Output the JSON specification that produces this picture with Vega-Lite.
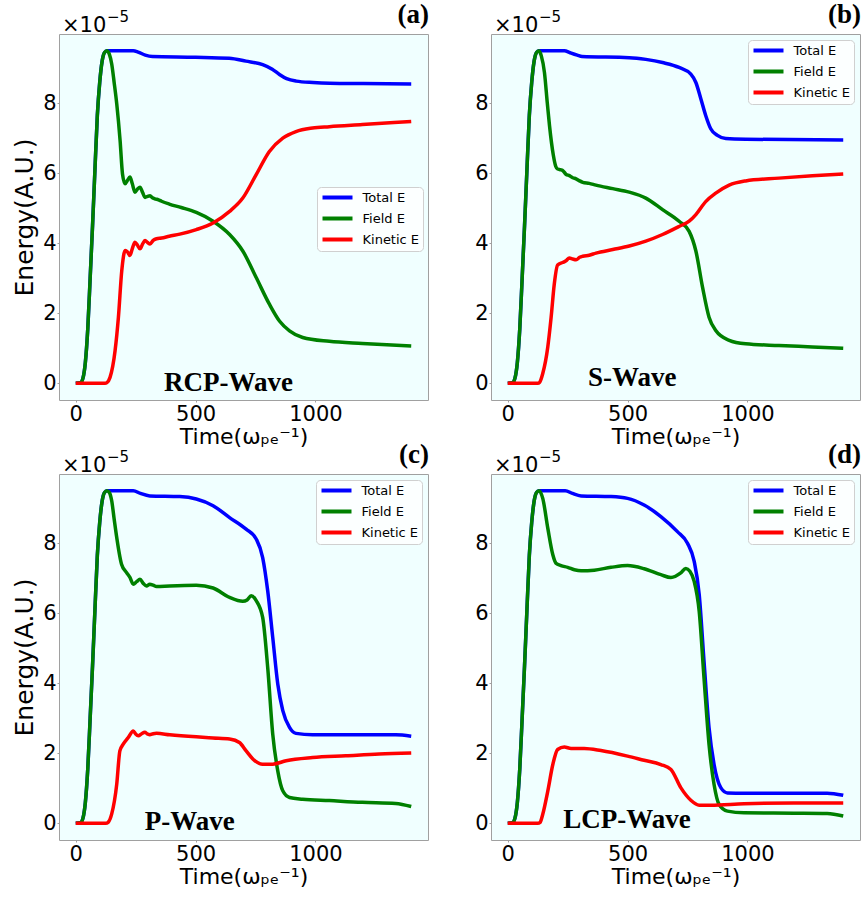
{
  "$schema": "https://vega.github.io/schema/vega-lite/v6.json",
  "padding": {"left": 12, "top": 0, "right": 2, "bottom": 5},
  "background": "white",
  "columns": 2,
  "spacing": {"row": 74, "column": 63},
  "bounds": "flush",
  "resolve": {"legend": {"color": "independent"}},
  "config": {
    "view": {"fill": "#f0ffff", "stroke": "#a0a0a0", "strokeWidth": 1},
    "axis": {"grid": false, "domain": false, "tickColor": "#a0a0a0", "tickSize": 2, "labelPadding": 1, "labelFont": "DejaVu Sans", "labelFontSize": 21, "labelColor": "black", "titleFont": "DejaVu Sans", "titleFontWeight": "normal", "titleColor": "black"},
    "axisX": {"titleFontSize": 22, "titlePadding": 2, "format": "d"},
    "axisY": {"titleFontSize": 25, "titlePadding": 5},
    "legend": {"fillColor": "rgba(255,255,255,0.8)", "strokeColor": "#d0d0d0", "cornerRadius": 4, "padding": 3.5, "labelFont": "DejaVu Sans", "labelFontSize": 13, "labelColor": "black", "symbolType": "M-1,0H5", "symbolSize": 100, "symbolStrokeWidth": 4, "labelOffset": 28, "rowPadding": 5, "title": null}
  },
  "datasets": {
    "d": [
      {"p":"a","s":"Total E","t":0,"E":0},{"p":"a","s":"Total E","t":20,"E":0.02},{"p":"a","s":"Total E","t":30,"E":0.15},{"p":"a","s":"Total E","t":40,"E":0.6},{"p":"a","s":"Total E","t":50,"E":1.55},{"p":"a","s":"Total E","t":60,"E":3.0},{"p":"a","s":"Total E","t":70,"E":4.5},{"p":"a","s":"Total E","t":80,"E":6.1},{"p":"a","s":"Total E","t":90,"E":7.65},{"p":"a","s":"Total E","t":100,"E":8.6},{"p":"a","s":"Total E","t":110,"E":9.2},{"p":"a","s":"Total E","t":120,"E":9.45},{"p":"a","s":"Total E","t":130,"E":9.5},{"p":"a","s":"Total E","t":240,"E":9.5},{"p":"a","s":"Total E","t":260,"E":9.46},{"p":"a","s":"Total E","t":290,"E":9.37},{"p":"a","s":"Total E","t":320,"E":9.33},{"p":"a","s":"Total E","t":500,"E":9.31},{"p":"a","s":"Total E","t":640,"E":9.28},{"p":"a","s":"Total E","t":710,"E":9.2},{"p":"a","s":"Total E","t":780,"E":9.1},{"p":"a","s":"Total E","t":820,"E":8.97},{"p":"a","s":"Total E","t":850,"E":8.82},{"p":"a","s":"Total E","t":880,"E":8.7},{"p":"a","s":"Total E","t":920,"E":8.63},{"p":"a","s":"Total E","t":990,"E":8.59},{"p":"a","s":"Total E","t":1060,"E":8.57},{"p":"a","s":"Total E","t":1200,"E":8.56},{"p":"a","s":"Total E","t":1400,"E":8.55},
      {"p":"a","s":"Field E","t":0,"E":0},{"p":"a","s":"Field E","t":20,"E":0.02},{"p":"a","s":"Field E","t":30,"E":0.15},{"p":"a","s":"Field E","t":40,"E":0.6},{"p":"a","s":"Field E","t":50,"E":1.55},{"p":"a","s":"Field E","t":60,"E":3.0},{"p":"a","s":"Field E","t":70,"E":4.5},{"p":"a","s":"Field E","t":80,"E":6.1},{"p":"a","s":"Field E","t":90,"E":7.65},{"p":"a","s":"Field E","t":100,"E":8.6},{"p":"a","s":"Field E","t":110,"E":9.2},{"p":"a","s":"Field E","t":120,"E":9.45},{"p":"a","s":"Field E","t":130,"E":9.5},{"p":"a","s":"Field E","t":140,"E":9.4},{"p":"a","s":"Field E","t":150,"E":9.12},{"p":"a","s":"Field E","t":160,"E":8.6},{"p":"a","s":"Field E","t":171,"E":7.98},{"p":"a","s":"Field E","t":185,"E":6.93},{"p":"a","s":"Field E","t":195,"E":5.98},{"p":"a","s":"Field E","t":206,"E":5.7},{"p":"a","s":"Field E","t":216,"E":5.8},{"p":"a","s":"Field E","t":226,"E":5.89},{"p":"a","s":"Field E","t":236,"E":5.7},{"p":"a","s":"Field E","t":247,"E":5.46},{"p":"a","s":"Field E","t":258,"E":5.55},{"p":"a","s":"Field E","t":268,"E":5.6},{"p":"a","s":"Field E","t":279,"E":5.45},{"p":"a","s":"Field E","t":289,"E":5.31},{"p":"a","s":"Field E","t":300,"E":5.34},{"p":"a","s":"Field E","t":310,"E":5.36},{"p":"a","s":"Field E","t":320,"E":5.3},{"p":"a","s":"Field E","t":330,"E":5.27},{"p":"a","s":"Field E","t":345,"E":5.24},{"p":"a","s":"Field E","t":358,"E":5.2},{"p":"a","s":"Field E","t":390,"E":5.12},{"p":"a","s":"Field E","t":440,"E":5.02},{"p":"a","s":"Field E","t":503,"E":4.88},{"p":"a","s":"Field E","t":573,"E":4.63},{"p":"a","s":"Field E","t":642,"E":4.25},{"p":"a","s":"Field E","t":697,"E":3.78},{"p":"a","s":"Field E","t":753,"E":3.02},{"p":"a","s":"Field E","t":808,"E":2.26},{"p":"a","s":"Field E","t":850,"E":1.78},{"p":"a","s":"Field E","t":892,"E":1.5},{"p":"a","s":"Field E","t":947,"E":1.31},{"p":"a","s":"Field E","t":1058,"E":1.2},{"p":"a","s":"Field E","t":1196,"E":1.14},{"p":"a","s":"Field E","t":1400,"E":1.07},
      {"p":"a","s":"Kinetic E","t":0,"E":0},{"p":"a","s":"Kinetic E","t":122,"E":0},{"p":"a","s":"Kinetic E","t":130,"E":0.02},{"p":"a","s":"Kinetic E","t":143,"E":0.17},{"p":"a","s":"Kinetic E","t":164,"E":0.93},{"p":"a","s":"Kinetic E","t":178,"E":1.89},{"p":"a","s":"Kinetic E","t":192,"E":3.22},{"p":"a","s":"Kinetic E","t":206,"E":3.79},{"p":"a","s":"Kinetic E","t":216,"E":3.75},{"p":"a","s":"Kinetic E","t":226,"E":3.65},{"p":"a","s":"Kinetic E","t":236,"E":3.85},{"p":"a","s":"Kinetic E","t":247,"E":4.03},{"p":"a","s":"Kinetic E","t":257,"E":3.95},{"p":"a","s":"Kinetic E","t":268,"E":3.84},{"p":"a","s":"Kinetic E","t":279,"E":3.98},{"p":"a","s":"Kinetic E","t":289,"E":4.08},{"p":"a","s":"Kinetic E","t":300,"E":4.02},{"p":"a","s":"Kinetic E","t":310,"E":3.98},{"p":"a","s":"Kinetic E","t":323,"E":4.08},{"p":"a","s":"Kinetic E","t":337,"E":4.13},{"p":"a","s":"Kinetic E","t":358,"E":4.15},{"p":"a","s":"Kinetic E","t":390,"E":4.2},{"p":"a","s":"Kinetic E","t":434,"E":4.26},{"p":"a","s":"Kinetic E","t":503,"E":4.39},{"p":"a","s":"Kinetic E","t":573,"E":4.58},{"p":"a","s":"Kinetic E","t":642,"E":4.91},{"p":"a","s":"Kinetic E","t":697,"E":5.29},{"p":"a","s":"Kinetic E","t":753,"E":5.96},{"p":"a","s":"Kinetic E","t":808,"E":6.62},{"p":"a","s":"Kinetic E","t":864,"E":7.0},{"p":"a","s":"Kinetic E","t":919,"E":7.19},{"p":"a","s":"Kinetic E","t":988,"E":7.29},{"p":"a","s":"Kinetic E","t":1058,"E":7.33},{"p":"a","s":"Kinetic E","t":1196,"E":7.39},{"p":"a","s":"Kinetic E","t":1400,"E":7.48},

      {"p":"b","s":"Total E","t":0,"E":0},{"p":"b","s":"Total E","t":20,"E":0.02},{"p":"b","s":"Total E","t":30,"E":0.15},{"p":"b","s":"Total E","t":40,"E":0.6},{"p":"b","s":"Total E","t":50,"E":1.55},{"p":"b","s":"Total E","t":60,"E":3.0},{"p":"b","s":"Total E","t":70,"E":4.5},{"p":"b","s":"Total E","t":80,"E":6.1},{"p":"b","s":"Total E","t":90,"E":7.65},{"p":"b","s":"Total E","t":100,"E":8.6},{"p":"b","s":"Total E","t":110,"E":9.2},{"p":"b","s":"Total E","t":120,"E":9.45},{"p":"b","s":"Total E","t":130,"E":9.5},{"p":"b","s":"Total E","t":236,"E":9.5},{"p":"b","s":"Total E","t":260,"E":9.44},{"p":"b","s":"Total E","t":290,"E":9.37},{"p":"b","s":"Total E","t":310,"E":9.33},{"p":"b","s":"Total E","t":507,"E":9.3},{"p":"b","s":"Total E","t":576,"E":9.25},{"p":"b","s":"Total E","t":646,"E":9.16},{"p":"b","s":"Total E","t":715,"E":9.02},{"p":"b","s":"Total E","t":764,"E":8.83},{"p":"b","s":"Total E","t":785,"E":8.59},{"p":"b","s":"Total E","t":806,"E":8.12},{"p":"b","s":"Total E","t":826,"E":7.65},{"p":"b","s":"Total E","t":847,"E":7.27},{"p":"b","s":"Total E","t":875,"E":7.08},{"p":"b","s":"Total E","t":910,"E":6.99},{"p":"b","s":"Total E","t":993,"E":6.97},{"p":"b","s":"Total E","t":1400,"E":6.95},
      {"p":"b","s":"Field E","t":0,"E":0},{"p":"b","s":"Field E","t":20,"E":0.02},{"p":"b","s":"Field E","t":30,"E":0.15},{"p":"b","s":"Field E","t":40,"E":0.6},{"p":"b","s":"Field E","t":50,"E":1.55},{"p":"b","s":"Field E","t":60,"E":3.0},{"p":"b","s":"Field E","t":70,"E":4.5},{"p":"b","s":"Field E","t":80,"E":6.1},{"p":"b","s":"Field E","t":90,"E":7.65},{"p":"b","s":"Field E","t":100,"E":8.6},{"p":"b","s":"Field E","t":110,"E":9.2},{"p":"b","s":"Field E","t":120,"E":9.45},{"p":"b","s":"Field E","t":130,"E":9.5},{"p":"b","s":"Field E","t":140,"E":9.35},{"p":"b","s":"Field E","t":153,"E":8.88},{"p":"b","s":"Field E","t":165,"E":8.0},{"p":"b","s":"Field E","t":174,"E":7.37},{"p":"b","s":"Field E","t":190,"E":6.52},{"p":"b","s":"Field E","t":200,"E":6.2},{"p":"b","s":"Field E","t":208,"E":6.12},{"p":"b","s":"Field E","t":220,"E":6.1},{"p":"b","s":"Field E","t":229,"E":6.08},{"p":"b","s":"Field E","t":243,"E":5.97},{"p":"b","s":"Field E","t":257,"E":5.93},{"p":"b","s":"Field E","t":271,"E":5.87},{"p":"b","s":"Field E","t":285,"E":5.84},{"p":"b","s":"Field E","t":300,"E":5.78},{"p":"b","s":"Field E","t":313,"E":5.74},{"p":"b","s":"Field E","t":340,"E":5.71},{"p":"b","s":"Field E","t":368,"E":5.66},{"p":"b","s":"Field E","t":438,"E":5.56},{"p":"b","s":"Field E","t":507,"E":5.46},{"p":"b","s":"Field E","t":576,"E":5.29},{"p":"b","s":"Field E","t":646,"E":4.96},{"p":"b","s":"Field E","t":715,"E":4.63},{"p":"b","s":"Field E","t":757,"E":4.34},{"p":"b","s":"Field E","t":785,"E":3.78},{"p":"b","s":"Field E","t":813,"E":2.74},{"p":"b","s":"Field E","t":840,"E":1.89},{"p":"b","s":"Field E","t":868,"E":1.51},{"p":"b","s":"Field E","t":924,"E":1.23},{"p":"b","s":"Field E","t":993,"E":1.13},{"p":"b","s":"Field E","t":1132,"E":1.08},{"p":"b","s":"Field E","t":1271,"E":1.04},{"p":"b","s":"Field E","t":1400,"E":1.0},
      {"p":"b","s":"Kinetic E","t":0,"E":0},{"p":"b","s":"Kinetic E","t":125,"E":0},{"p":"b","s":"Kinetic E","t":133,"E":0.03},{"p":"b","s":"Kinetic E","t":146,"E":0.28},{"p":"b","s":"Kinetic E","t":167,"E":1.04},{"p":"b","s":"Kinetic E","t":181,"E":1.89},{"p":"b","s":"Kinetic E","t":194,"E":2.83},{"p":"b","s":"Kinetic E","t":208,"E":3.38},{"p":"b","s":"Kinetic E","t":229,"E":3.45},{"p":"b","s":"Kinetic E","t":243,"E":3.5},{"p":"b","s":"Kinetic E","t":257,"E":3.58},{"p":"b","s":"Kinetic E","t":271,"E":3.55},{"p":"b","s":"Kinetic E","t":285,"E":3.53},{"p":"b","s":"Kinetic E","t":300,"E":3.6},{"p":"b","s":"Kinetic E","t":313,"E":3.63},{"p":"b","s":"Kinetic E","t":340,"E":3.66},{"p":"b","s":"Kinetic E","t":368,"E":3.72},{"p":"b","s":"Kinetic E","t":438,"E":3.82},{"p":"b","s":"Kinetic E","t":507,"E":3.92},{"p":"b","s":"Kinetic E","t":576,"E":4.06},{"p":"b","s":"Kinetic E","t":646,"E":4.25},{"p":"b","s":"Kinetic E","t":715,"E":4.48},{"p":"b","s":"Kinetic E","t":757,"E":4.63},{"p":"b","s":"Kinetic E","t":785,"E":4.82},{"p":"b","s":"Kinetic E","t":826,"E":5.19},{"p":"b","s":"Kinetic E","t":868,"E":5.43},{"p":"b","s":"Kinetic E","t":924,"E":5.66},{"p":"b","s":"Kinetic E","t":993,"E":5.78},{"p":"b","s":"Kinetic E","t":1132,"E":5.86},{"p":"b","s":"Kinetic E","t":1271,"E":5.93},{"p":"b","s":"Kinetic E","t":1400,"E":5.98},

      {"p":"c","s":"Total E","t":0,"E":0},{"p":"c","s":"Total E","t":20,"E":0.02},{"p":"c","s":"Total E","t":30,"E":0.15},{"p":"c","s":"Total E","t":40,"E":0.6},{"p":"c","s":"Total E","t":50,"E":1.55},{"p":"c","s":"Total E","t":60,"E":3.0},{"p":"c","s":"Total E","t":70,"E":4.5},{"p":"c","s":"Total E","t":80,"E":6.1},{"p":"c","s":"Total E","t":90,"E":7.65},{"p":"c","s":"Total E","t":100,"E":8.6},{"p":"c","s":"Total E","t":110,"E":9.2},{"p":"c","s":"Total E","t":120,"E":9.45},{"p":"c","s":"Total E","t":130,"E":9.5},{"p":"c","s":"Total E","t":240,"E":9.5},{"p":"c","s":"Total E","t":270,"E":9.42},{"p":"c","s":"Total E","t":309,"E":9.35},{"p":"c","s":"Total E","t":434,"E":9.33},{"p":"c","s":"Total E","t":503,"E":9.26},{"p":"c","s":"Total E","t":573,"E":9.07},{"p":"c","s":"Total E","t":642,"E":8.73},{"p":"c","s":"Total E","t":711,"E":8.4},{"p":"c","s":"Total E","t":753,"E":8.12},{"p":"c","s":"Total E","t":780,"E":7.59},{"p":"c","s":"Total E","t":801,"E":6.64},{"p":"c","s":"Total E","t":822,"E":5.31},{"p":"c","s":"Total E","t":843,"E":3.98},{"p":"c","s":"Total E","t":864,"E":3.22},{"p":"c","s":"Total E","t":892,"E":2.74},{"p":"c","s":"Total E","t":919,"E":2.57},{"p":"c","s":"Total E","t":988,"E":2.53},{"p":"c","s":"Total E","t":1335,"E":2.53},{"p":"c","s":"Total E","t":1400,"E":2.49},
      {"p":"c","s":"Field E","t":0,"E":0},{"p":"c","s":"Field E","t":20,"E":0.02},{"p":"c","s":"Field E","t":30,"E":0.15},{"p":"c","s":"Field E","t":40,"E":0.6},{"p":"c","s":"Field E","t":50,"E":1.55},{"p":"c","s":"Field E","t":60,"E":3.0},{"p":"c","s":"Field E","t":70,"E":4.5},{"p":"c","s":"Field E","t":80,"E":6.1},{"p":"c","s":"Field E","t":90,"E":7.65},{"p":"c","s":"Field E","t":100,"E":8.6},{"p":"c","s":"Field E","t":110,"E":9.2},{"p":"c","s":"Field E","t":120,"E":9.45},{"p":"c","s":"Field E","t":130,"E":9.5},{"p":"c","s":"Field E","t":140,"E":9.45},{"p":"c","s":"Field E","t":150,"E":9.21},{"p":"c","s":"Field E","t":160,"E":8.7},{"p":"c","s":"Field E","t":171,"E":8.16},{"p":"c","s":"Field E","t":191,"E":7.4},{"p":"c","s":"Field E","t":212,"E":7.16},{"p":"c","s":"Field E","t":226,"E":7.02},{"p":"c","s":"Field E","t":240,"E":6.83},{"p":"c","s":"Field E","t":254,"E":6.9},{"p":"c","s":"Field E","t":268,"E":6.97},{"p":"c","s":"Field E","t":282,"E":6.85},{"p":"c","s":"Field E","t":295,"E":6.78},{"p":"c","s":"Field E","t":309,"E":6.83},{"p":"c","s":"Field E","t":323,"E":6.8},{"p":"c","s":"Field E","t":337,"E":6.76},{"p":"c","s":"Field E","t":392,"E":6.78},{"p":"c","s":"Field E","t":503,"E":6.8},{"p":"c","s":"Field E","t":573,"E":6.72},{"p":"c","s":"Field E","t":642,"E":6.45},{"p":"c","s":"Field E","t":697,"E":6.34},{"p":"c","s":"Field E","t":715,"E":6.38},{"p":"c","s":"Field E","t":732,"E":6.5},{"p":"c","s":"Field E","t":753,"E":6.36},{"p":"c","s":"Field E","t":780,"E":5.88},{"p":"c","s":"Field E","t":801,"E":4.45},{"p":"c","s":"Field E","t":822,"E":2.55},{"p":"c","s":"Field E","t":843,"E":1.5},{"p":"c","s":"Field E","t":864,"E":0.93},{"p":"c","s":"Field E","t":892,"E":0.74},{"p":"c","s":"Field E","t":947,"E":0.69},{"p":"c","s":"Field E","t":1058,"E":0.65},{"p":"c","s":"Field E","t":1196,"E":0.6},{"p":"c","s":"Field E","t":1335,"E":0.57},{"p":"c","s":"Field E","t":1400,"E":0.48},
      {"p":"c","s":"Kinetic E","t":0,"E":0},{"p":"c","s":"Kinetic E","t":125,"E":0},{"p":"c","s":"Kinetic E","t":135,"E":0.03},{"p":"c","s":"Kinetic E","t":150,"E":0.27},{"p":"c","s":"Kinetic E","t":171,"E":1.12},{"p":"c","s":"Kinetic E","t":184,"E":2.07},{"p":"c","s":"Kinetic E","t":198,"E":2.26},{"p":"c","s":"Kinetic E","t":219,"E":2.45},{"p":"c","s":"Kinetic E","t":240,"E":2.64},{"p":"c","s":"Kinetic E","t":250,"E":2.55},{"p":"c","s":"Kinetic E","t":261,"E":2.5},{"p":"c","s":"Kinetic E","t":275,"E":2.56},{"p":"c","s":"Kinetic E","t":288,"E":2.6},{"p":"c","s":"Kinetic E","t":300,"E":2.55},{"p":"c","s":"Kinetic E","t":309,"E":2.53},{"p":"c","s":"Kinetic E","t":323,"E":2.56},{"p":"c","s":"Kinetic E","t":337,"E":2.57},{"p":"c","s":"Kinetic E","t":392,"E":2.53},{"p":"c","s":"Kinetic E","t":503,"E":2.47},{"p":"c","s":"Kinetic E","t":573,"E":2.44},{"p":"c","s":"Kinetic E","t":642,"E":2.41},{"p":"c","s":"Kinetic E","t":683,"E":2.31},{"p":"c","s":"Kinetic E","t":711,"E":2.07},{"p":"c","s":"Kinetic E","t":739,"E":1.84},{"p":"c","s":"Kinetic E","t":780,"E":1.69},{"p":"c","s":"Kinetic E","t":822,"E":1.69},{"p":"c","s":"Kinetic E","t":878,"E":1.79},{"p":"c","s":"Kinetic E","t":988,"E":1.88},{"p":"c","s":"Kinetic E","t":1127,"E":1.93},{"p":"c","s":"Kinetic E","t":1266,"E":1.98},{"p":"c","s":"Kinetic E","t":1400,"E":2.01},

      {"p":"d","s":"Total E","t":0,"E":0},{"p":"d","s":"Total E","t":20,"E":0.02},{"p":"d","s":"Total E","t":30,"E":0.15},{"p":"d","s":"Total E","t":40,"E":0.6},{"p":"d","s":"Total E","t":50,"E":1.55},{"p":"d","s":"Total E","t":60,"E":3.0},{"p":"d","s":"Total E","t":70,"E":4.5},{"p":"d","s":"Total E","t":80,"E":6.1},{"p":"d","s":"Total E","t":90,"E":7.65},{"p":"d","s":"Total E","t":100,"E":8.6},{"p":"d","s":"Total E","t":110,"E":9.2},{"p":"d","s":"Total E","t":120,"E":9.45},{"p":"d","s":"Total E","t":130,"E":9.5},{"p":"d","s":"Total E","t":240,"E":9.5},{"p":"d","s":"Total E","t":270,"E":9.42},{"p":"d","s":"Total E","t":306,"E":9.35},{"p":"d","s":"Total E","t":431,"E":9.33},{"p":"d","s":"Total E","t":500,"E":9.28},{"p":"d","s":"Total E","t":569,"E":9.09},{"p":"d","s":"Total E","t":639,"E":8.76},{"p":"d","s":"Total E","t":708,"E":8.33},{"p":"d","s":"Total E","t":750,"E":8.0},{"p":"d","s":"Total E","t":778,"E":7.48},{"p":"d","s":"Total E","t":799,"E":6.53},{"p":"d","s":"Total E","t":819,"E":4.63},{"p":"d","s":"Total E","t":840,"E":2.73},{"p":"d","s":"Total E","t":861,"E":1.68},{"p":"d","s":"Total E","t":889,"E":1.02},{"p":"d","s":"Total E","t":917,"E":0.87},{"p":"d","s":"Total E","t":986,"E":0.86},{"p":"d","s":"Total E","t":1333,"E":0.86},{"p":"d","s":"Total E","t":1400,"E":0.8},
      {"p":"d","s":"Field E","t":0,"E":0},{"p":"d","s":"Field E","t":20,"E":0.02},{"p":"d","s":"Field E","t":30,"E":0.15},{"p":"d","s":"Field E","t":40,"E":0.6},{"p":"d","s":"Field E","t":50,"E":1.55},{"p":"d","s":"Field E","t":60,"E":3.0},{"p":"d","s":"Field E","t":70,"E":4.5},{"p":"d","s":"Field E","t":80,"E":6.1},{"p":"d","s":"Field E","t":90,"E":7.65},{"p":"d","s":"Field E","t":100,"E":8.6},{"p":"d","s":"Field E","t":110,"E":9.2},{"p":"d","s":"Field E","t":120,"E":9.45},{"p":"d","s":"Field E","t":130,"E":9.5},{"p":"d","s":"Field E","t":146,"E":9.28},{"p":"d","s":"Field E","t":167,"E":8.43},{"p":"d","s":"Field E","t":188,"E":7.67},{"p":"d","s":"Field E","t":201,"E":7.43},{"p":"d","s":"Field E","t":222,"E":7.36},{"p":"d","s":"Field E","t":250,"E":7.31},{"p":"d","s":"Field E","t":278,"E":7.24},{"p":"d","s":"Field E","t":306,"E":7.21},{"p":"d","s":"Field E","t":361,"E":7.23},{"p":"d","s":"Field E","t":431,"E":7.31},{"p":"d","s":"Field E","t":500,"E":7.36},{"p":"d","s":"Field E","t":569,"E":7.27},{"p":"d","s":"Field E","t":639,"E":7.1},{"p":"d","s":"Field E","t":681,"E":7.02},{"p":"d","s":"Field E","t":722,"E":7.15},{"p":"d","s":"Field E","t":743,"E":7.28},{"p":"d","s":"Field E","t":760,"E":7.2},{"p":"d","s":"Field E","t":778,"E":6.91},{"p":"d","s":"Field E","t":799,"E":6.05},{"p":"d","s":"Field E","t":819,"E":4.15},{"p":"d","s":"Field E","t":840,"E":2.25},{"p":"d","s":"Field E","t":861,"E":1.11},{"p":"d","s":"Field E","t":882,"E":0.54},{"p":"d","s":"Field E","t":917,"E":0.35},{"p":"d","s":"Field E","t":986,"E":0.3},{"p":"d","s":"Field E","t":1194,"E":0.29},{"p":"d","s":"Field E","t":1333,"E":0.28},{"p":"d","s":"Field E","t":1400,"E":0.21},
      {"p":"d","s":"Kinetic E","t":0,"E":0},{"p":"d","s":"Kinetic E","t":125,"E":0},{"p":"d","s":"Kinetic E","t":135,"E":0.03},{"p":"d","s":"Kinetic E","t":146,"E":0.26},{"p":"d","s":"Kinetic E","t":167,"E":0.92},{"p":"d","s":"Kinetic E","t":188,"E":1.68},{"p":"d","s":"Kinetic E","t":208,"E":2.11},{"p":"d","s":"Kinetic E","t":236,"E":2.18},{"p":"d","s":"Kinetic E","t":264,"E":2.14},{"p":"d","s":"Kinetic E","t":319,"E":2.14},{"p":"d","s":"Kinetic E","t":389,"E":2.08},{"p":"d","s":"Kinetic E","t":500,"E":1.92},{"p":"d","s":"Kinetic E","t":569,"E":1.8},{"p":"d","s":"Kinetic E","t":639,"E":1.68},{"p":"d","s":"Kinetic E","t":681,"E":1.54},{"p":"d","s":"Kinetic E","t":722,"E":1.02},{"p":"d","s":"Kinetic E","t":764,"E":0.66},{"p":"d","s":"Kinetic E","t":799,"E":0.52},{"p":"d","s":"Kinetic E","t":847,"E":0.52},{"p":"d","s":"Kinetic E","t":986,"E":0.56},{"p":"d","s":"Kinetic E","t":1194,"E":0.58},{"p":"d","s":"Kinetic E","t":1400,"E":0.58}
    ],
    "labels": [
      {"p":"a","t":637,"E":-0.23,"name":"RCP-Wave"},
      {"p":"b","t":519,"E":-0.07,"name":"S-Wave"},
      {"p":"c","t":476,"E":-0.18,"name":"P-Wave"},
      {"p":"d","t":498,"E":-0.14,"name":"LCP-Wave"}
    ],
    "tags": [
      {"p":"a","t":1470,"E":9.975,"name":"(a)"},
      {"p":"b","t":1470,"E":9.975,"name":"(b)"},
      {"p":"c","t":1470,"E":9.975,"name":"(c)"},
      {"p":"d","t":1470,"E":9.975,"name":"(d)"}
    ],
    "mant": [{"t":-70,"E":9.975,"name":"×10"}],
    "expo": [{"t":-70,"E":9.975,"name":"−5"}]
  },
  "concat": [
    {
      "width": 369, "height": 366,
      "layer": [
        {
          "data": {"name": "d"},
          "transform": [{"filter": "datum.p == 'a'"}],
          "mark": {"type": "line", "strokeWidth": 3.5, "interpolate": "monotone"},
          "encoding": {
            "x": {"field": "t", "type": "quantitative", "scale": {"domain": [-70, 1470], "nice": false, "zero": false}, "axis": {"title": "Time(ωₚₑ⁻¹)", "values": [0, 500, 1000]}},
            "y": {"field": "E", "type": "quantitative", "scale": {"domain": [-0.475, 9.975], "nice": false, "zero": false}, "axis": {"title": "Energy(A.U.)", "values": [0, 2, 4, 6, 8]}},
            "color": {"field": "s", "type": "nominal", "sort": null, "scale": {"domain": ["Total E", "Field E", "Kinetic E"], "range": ["#0000ff", "#008000", "#ff0000"]}, "legend": {"orient": "none", "legendX": 258, "legendY": 153}}
          }
        },
        {"data": {"name": "mant"}, "mark": {"type": "text", "align": "left", "baseline": "alphabetic", "dx": 3, "dy": -2, "font": "DejaVu Sans", "fontSize": 21, "color": "black"}, "encoding": {"x": {"field": "t", "type": "quantitative"}, "y": {"field": "E", "type": "quantitative"}, "text": {"field": "name"}}},
        {"data": {"name": "expo"}, "mark": {"type": "text", "align": "left", "baseline": "alphabetic", "dx": 48, "dy": -12, "font": "DejaVu Sans", "fontSize": 15, "color": "black"}, "encoding": {"x": {"field": "t", "type": "quantitative"}, "y": {"field": "E", "type": "quantitative"}, "text": {"field": "name"}}},
        {"data": {"name": "tags"}, "transform": [{"filter": "datum.p == 'a'"}], "mark": {"type": "text", "align": "right", "baseline": "alphabetic", "dx": 1, "dy": -11, "font": "Liberation Serif", "fontWeight": "bold", "fontSize": 27, "color": "black"}, "encoding": {"x": {"field": "t", "type": "quantitative"}, "y": {"field": "E", "type": "quantitative"}, "text": {"field": "name"}}},
        {"data": {"name": "labels"}, "transform": [{"filter": "datum.p == 'a'"}], "mark": {"type": "text", "align": "center", "baseline": "alphabetic", "font": "Liberation Serif", "fontWeight": "bold", "fontSize": 27, "color": "black"}, "encoding": {"x": {"field": "t", "type": "quantitative"}, "y": {"field": "E", "type": "quantitative"}, "text": {"field": "name"}}}
      ]
    },
    {
      "width": 369, "height": 366,
      "layer": [
        {
          "data": {"name": "d"},
          "transform": [{"filter": "datum.p == 'b'"}],
          "mark": {"type": "line", "strokeWidth": 3.5, "interpolate": "monotone"},
          "encoding": {
            "x": {"field": "t", "type": "quantitative", "scale": {"domain": [-70, 1470], "nice": false, "zero": false}, "axis": {"title": "Time(ωₚₑ⁻¹)", "values": [0, 500, 1000]}},
            "y": {"field": "E", "type": "quantitative", "scale": {"domain": [-0.475, 9.975], "nice": false, "zero": false}, "axis": {"title": null, "values": [0, 2, 4, 6, 8]}},
            "color": {"field": "s", "type": "nominal", "sort": null, "scale": {"domain": ["Total E", "Field E", "Kinetic E"], "range": ["#0000ff", "#008000", "#ff0000"]}, "legend": {"orient": "top-right", "offset": 6}}
          }
        },
        {"data": {"name": "mant"}, "mark": {"type": "text", "align": "left", "baseline": "alphabetic", "dx": 3, "dy": -2, "font": "DejaVu Sans", "fontSize": 21, "color": "black"}, "encoding": {"x": {"field": "t", "type": "quantitative"}, "y": {"field": "E", "type": "quantitative"}, "text": {"field": "name"}}},
        {"data": {"name": "expo"}, "mark": {"type": "text", "align": "left", "baseline": "alphabetic", "dx": 48, "dy": -12, "font": "DejaVu Sans", "fontSize": 15, "color": "black"}, "encoding": {"x": {"field": "t", "type": "quantitative"}, "y": {"field": "E", "type": "quantitative"}, "text": {"field": "name"}}},
        {"data": {"name": "tags"}, "transform": [{"filter": "datum.p == 'b'"}], "mark": {"type": "text", "align": "right", "baseline": "alphabetic", "dx": 1, "dy": -11, "font": "Liberation Serif", "fontWeight": "bold", "fontSize": 27, "color": "black"}, "encoding": {"x": {"field": "t", "type": "quantitative"}, "y": {"field": "E", "type": "quantitative"}, "text": {"field": "name"}}},
        {"data": {"name": "labels"}, "transform": [{"filter": "datum.p == 'b'"}], "mark": {"type": "text", "align": "center", "baseline": "alphabetic", "font": "Liberation Serif", "fontWeight": "bold", "fontSize": 27, "color": "black"}, "encoding": {"x": {"field": "t", "type": "quantitative"}, "y": {"field": "E", "type": "quantitative"}, "text": {"field": "name"}}}
      ]
    },
    {
      "width": 369, "height": 366,
      "layer": [
        {
          "data": {"name": "d"},
          "transform": [{"filter": "datum.p == 'c'"}],
          "mark": {"type": "line", "strokeWidth": 3.5, "interpolate": "monotone"},
          "encoding": {
            "x": {"field": "t", "type": "quantitative", "scale": {"domain": [-70, 1470], "nice": false, "zero": false}, "axis": {"title": "Time(ωₚₑ⁻¹)", "values": [0, 500, 1000]}},
            "y": {"field": "E", "type": "quantitative", "scale": {"domain": [-0.475, 9.975], "nice": false, "zero": false}, "axis": {"title": "Energy(A.U.)", "values": [0, 2, 4, 6, 8]}},
            "color": {"field": "s", "type": "nominal", "sort": null, "scale": {"domain": ["Total E", "Field E", "Kinetic E"], "range": ["#0000ff", "#008000", "#ff0000"]}, "legend": {"orient": "top-right", "offset": 6}}
          }
        },
        {"data": {"name": "mant"}, "mark": {"type": "text", "align": "left", "baseline": "alphabetic", "dx": 3, "dy": -2, "font": "DejaVu Sans", "fontSize": 21, "color": "black"}, "encoding": {"x": {"field": "t", "type": "quantitative"}, "y": {"field": "E", "type": "quantitative"}, "text": {"field": "name"}}},
        {"data": {"name": "expo"}, "mark": {"type": "text", "align": "left", "baseline": "alphabetic", "dx": 48, "dy": -12, "font": "DejaVu Sans", "fontSize": 15, "color": "black"}, "encoding": {"x": {"field": "t", "type": "quantitative"}, "y": {"field": "E", "type": "quantitative"}, "text": {"field": "name"}}},
        {"data": {"name": "tags"}, "transform": [{"filter": "datum.p == 'c'"}], "mark": {"type": "text", "align": "right", "baseline": "alphabetic", "dx": 1, "dy": -11, "font": "Liberation Serif", "fontWeight": "bold", "fontSize": 27, "color": "black"}, "encoding": {"x": {"field": "t", "type": "quantitative"}, "y": {"field": "E", "type": "quantitative"}, "text": {"field": "name"}}},
        {"data": {"name": "labels"}, "transform": [{"filter": "datum.p == 'c'"}], "mark": {"type": "text", "align": "center", "baseline": "alphabetic", "font": "Liberation Serif", "fontWeight": "bold", "fontSize": 27, "color": "black"}, "encoding": {"x": {"field": "t", "type": "quantitative"}, "y": {"field": "E", "type": "quantitative"}, "text": {"field": "name"}}}
      ]
    },
    {
      "width": 369, "height": 366,
      "layer": [
        {
          "data": {"name": "d"},
          "transform": [{"filter": "datum.p == 'd'"}],
          "mark": {"type": "line", "strokeWidth": 3.5, "interpolate": "monotone"},
          "encoding": {
            "x": {"field": "t", "type": "quantitative", "scale": {"domain": [-70, 1470], "nice": false, "zero": false}, "axis": {"title": "Time(ωₚₑ⁻¹)", "values": [0, 500, 1000]}},
            "y": {"field": "E", "type": "quantitative", "scale": {"domain": [-0.475, 9.975], "nice": false, "zero": false}, "axis": {"title": null, "values": [0, 2, 4, 6, 8]}},
            "color": {"field": "s", "type": "nominal", "sort": null, "scale": {"domain": ["Total E", "Field E", "Kinetic E"], "range": ["#0000ff", "#008000", "#ff0000"]}, "legend": {"orient": "top-right", "offset": 6}}
          }
        },
        {"data": {"name": "mant"}, "mark": {"type": "text", "align": "left", "baseline": "alphabetic", "dx": 3, "dy": -2, "font": "DejaVu Sans", "fontSize": 21, "color": "black"}, "encoding": {"x": {"field": "t", "type": "quantitative"}, "y": {"field": "E", "type": "quantitative"}, "text": {"field": "name"}}},
        {"data": {"name": "expo"}, "mark": {"type": "text", "align": "left", "baseline": "alphabetic", "dx": 48, "dy": -12, "font": "DejaVu Sans", "fontSize": 15, "color": "black"}, "encoding": {"x": {"field": "t", "type": "quantitative"}, "y": {"field": "E", "type": "quantitative"}, "text": {"field": "name"}}},
        {"data": {"name": "tags"}, "transform": [{"filter": "datum.p == 'd'"}], "mark": {"type": "text", "align": "right", "baseline": "alphabetic", "dx": 1, "dy": -11, "font": "Liberation Serif", "fontWeight": "bold", "fontSize": 27, "color": "black"}, "encoding": {"x": {"field": "t", "type": "quantitative"}, "y": {"field": "E", "type": "quantitative"}, "text": {"field": "name"}}},
        {"data": {"name": "labels"}, "transform": [{"filter": "datum.p == 'd'"}], "mark": {"type": "text", "align": "center", "baseline": "alphabetic", "font": "Liberation Serif", "fontWeight": "bold", "fontSize": 27, "color": "black"}, "encoding": {"x": {"field": "t", "type": "quantitative"}, "y": {"field": "E", "type": "quantitative"}, "text": {"field": "name"}}}
      ]
    }
  ]
}
